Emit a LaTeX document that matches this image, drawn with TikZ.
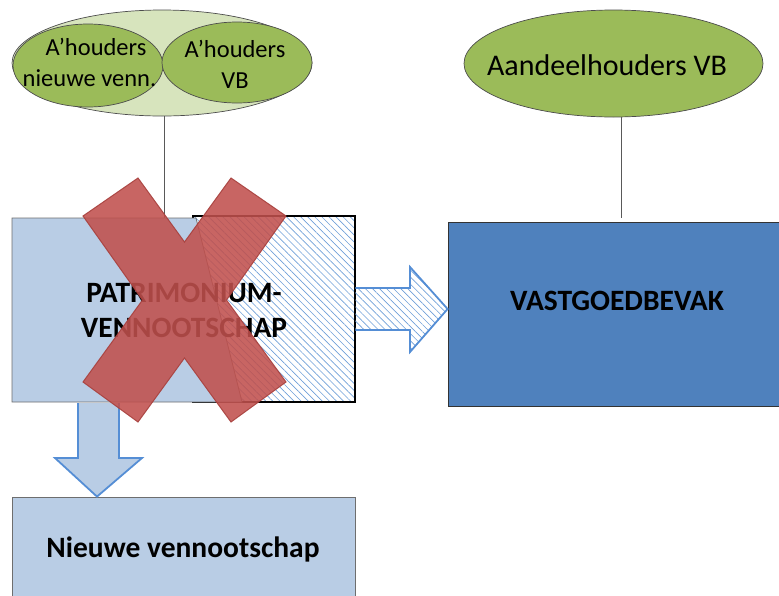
\documentclass[tikz,border=0pt]{standalone}
\usepackage{fontspec}
\setmainfont{Carlito}
\usetikzlibrary{shapes.geometric,patterns.meta,calc}
\definecolor{lblue}{HTML}{B9CDE5}
\definecolor{dblue}{HTML}{4F81BD}
\definecolor{ablue}{HTML}{558ED5}
\definecolor{hatchblue}{HTML}{6F9FD8}
\definecolor{hgreen}{HTML}{9BBB59}
\definecolor{lgreen}{HTML}{D7E4BD}
\definecolor{xred}{HTML}{C0504D}
\definecolor{xredline}{HTML}{A8403D}
\definecolor{edgegray}{HTML}{6E6E6E}
\definecolor{linkgray}{HTML}{595959}
\tikzset{
  ellbase/.style={ellipse, draw=black!70, line width=0.7pt, inner sep=0pt},
  bigell/.style={ellbase, fill=lgreen, minimum width=300pt, minimum height=106pt},
  smell/.style={ellbase, fill=hgreen, minimum width=150pt},
  smtext/.style={align=center, font=\fontsize{24.5}{31}\selectfont, inner sep=0pt},
  bigtext/.style={align=center, font=\fontsize{29.5}{35}\selectfont\bfseries, inner sep=0pt},
  hatchfill/.style={pattern={Lines[angle=-45,distance=5pt,line width=0.65pt]}, pattern color=hatchblue},
  hatchbox/.style={rectangle, draw=black, line width=2.2pt, inner sep=0pt, hatchfill},
  lbbox/.style={fill=lblue, draw=edgegray, line width=0.8pt},
  link/.style={draw=linkgray, line width=0.8pt},
  arrowout/.style={draw=ablue, line width=1.8pt, line join=miter},
  crossx/.style={fill=xred, fill opacity=0.88, draw=xredline, draw opacity=0.9, line width=1pt, line join=miter}
}
\begin{document}
\begin{tikzpicture}[x=1pt,y=-1pt]
\useasboundingbox (0,0) rectangle (779,595);
\clip (0,0) rectangle (779,595);

% shareholder ellipses (left)
\node[bigell] (grp) at (162,63) {};
\node[smell, minimum height=83pt] (lnew) at (88,65.5) {};
\node[smell, minimum height=81pt] (rvb) at (237,62.5) {};
\node[smtext] (lnewtxt) at (89.5,62) {\hspace*{13pt}A’houders\\nieuwe venn.};
\node[smtext] (rvbtxt) at (235,64) {A’houders\\VB};

% shareholder ellipse (right)
\node[ellbase, fill=hgreen, minimum width=299pt, minimum height=107pt] (avb) at (613.5,63.5) {};
\node[font=\fontsize{30}{36}\selectfont, inner sep=0pt] (avbtxt) at (607,65) {Aandeelhouders VB};

% patrimonium company
\node[hatchbox, minimum width=162pt, minimum height=186pt] (hatch) at (274,309) {};
\coordinate (ptl) at (12,218);
\coordinate (ptr) at (196,218);
\coordinate (pbr) at (242,402);
\coordinate (pbl) at (12,402);
\path[lbbox] (ptl) -- (ptr) -- (pbr) -- (pbl) -- cycle;
\node[bigtext] (patr) at (184,310) {PATRIMONIUM-\\VENNOOTSCHAP};

% vastgoedbevak
\node[rectangle, fill=dblue, draw=black!80, line width=0.8pt, minimum width=337pt, minimum height=184pt, inner sep=0pt] (vgb) at (616.5,314) {};
\node[bigtext] (vgbtxt) at (617,301) {VASTGOEDBEVAK};

% nieuwe vennootschap
\node[rectangle, lbbox, minimum width=343pt, minimum height=110pt, inner sep=0pt] (nv) at (183.5,552) {};
\node[bigtext] (nvtxt) at (183,549) {Nieuwe vennootschap};

% connector lines
\coordinate (ptop) at (164,218);
\draw[link] (grp.south -| ptop) -- (ptop);
\coordinate (vtop) at (621,218);
\draw[link] (avb.south -| vtop) -- (vtop);

% right arrow (hatched)
\draw[arrowout, hatchfill]
  (hatch.east |- 0,288) -- (410,288) -- (410,267) -- (vgb.west |- 0,309) -- (410,352) -- (410,330) -- (hatch.east |- 0,330);

% down arrow
\draw[arrowout, fill=lblue]
  (78,403) -- (78,458) -- (55,458) -- (nv.north -| 97,0) -- (142,458) -- (119,458) -- (119,403);

% red cross
\path[crossx] (83,216) -- (138,178) -- (184.5,242) -- (231,178) -- (286,216) -- (226.5,300)
  -- (286,382) -- (231,422) -- (184.5,358) -- (138,422) -- (83,382) -- (142.5,300) -- cycle;
\end{tikzpicture}
\end{document}
